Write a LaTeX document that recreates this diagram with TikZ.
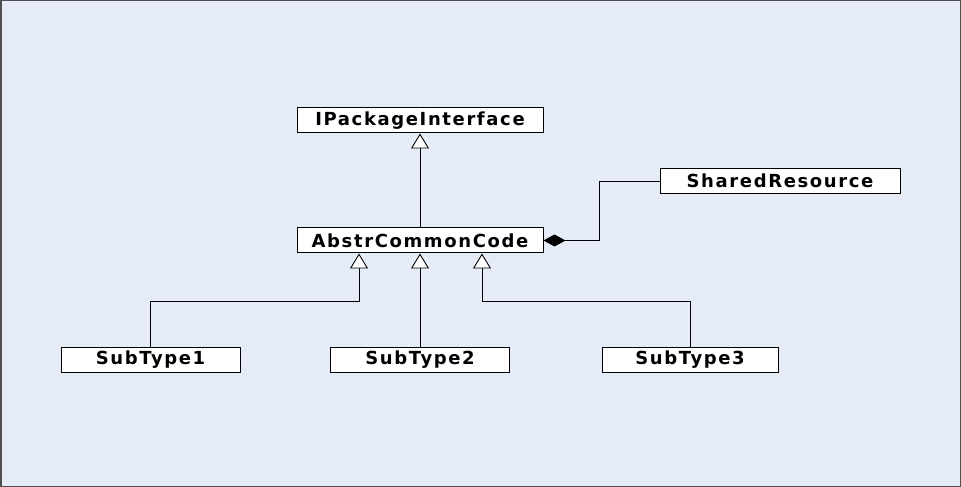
\documentclass[tikz,border=0pt]{standalone}
\usepackage{fontspec}
\usepackage{tikz}
\usetikzlibrary{positioning, arrows.meta, calc}
\newfontfamily\umlfont{DejaVu Sans}[LetterSpace=9]
\definecolor{umBg}{HTML}{E6ECF7}
\definecolor{umFrame}{HTML}{505050}
\definecolor{umInk}{HTML}{000000}

\begin{document}
\begin{tikzpicture}[x=1pt, y=1pt,
  cls/.style={draw=umInk, fill=white, line width=1pt, minimum height=25pt, inner sep=0pt,
    font=\umlfont\bfseries\fontsize{18}{20}\selectfont},
  isa/.style={draw=umInk, line width=0.9pt, -{Triangle[length=15pt, width=18pt, fill=white, line width=0.9pt]}},
  owns/.style={draw=umInk, line width=0.9pt, -{Diamond[length=22pt, width=12pt, line width=0.9pt]}}]
  \useasboundingbox (0,0) rectangle (961,487);
  \fill[umBg] (0,0) rectangle (961,487);
  \draw[umFrame, line width=1.5pt] (0.75,0.5) rectangle (960.5,486.25);
  \node[cls, minimum width=246pt] (ipkg)   at (420,366.5) {IPackageInterface};
  \node[cls, minimum width=246pt] (abstr)  at (420,246.5) {AbstrCommonCode};
  \node[cls, minimum width=240pt] (shared) at (780,306)   {SharedResource};
  \node[cls, minimum width=179pt] (sub1)   at (150.5,127) {SubType1};
  \node[cls, minimum width=179pt] (sub2)   at (420,127)   {SubType2};
  \node[cls, minimum width=176pt] (sub3)   at (690,127)   {SubType3};
  \draw[isa] (abstr) -- (ipkg);
  \draw[isa] (sub2) -- (abstr);
  \draw[isa] (sub1.north) -- ++(0,46) -| ([xshift=-61pt]abstr.south);
  \draw[isa] (sub3.north) -- ++(0,46) -| ([xshift=62pt]abstr.south);
  \draw[owns] (shared.west) -- ++(-60,0) |- (abstr.east);
\end{tikzpicture}
\end{document}
